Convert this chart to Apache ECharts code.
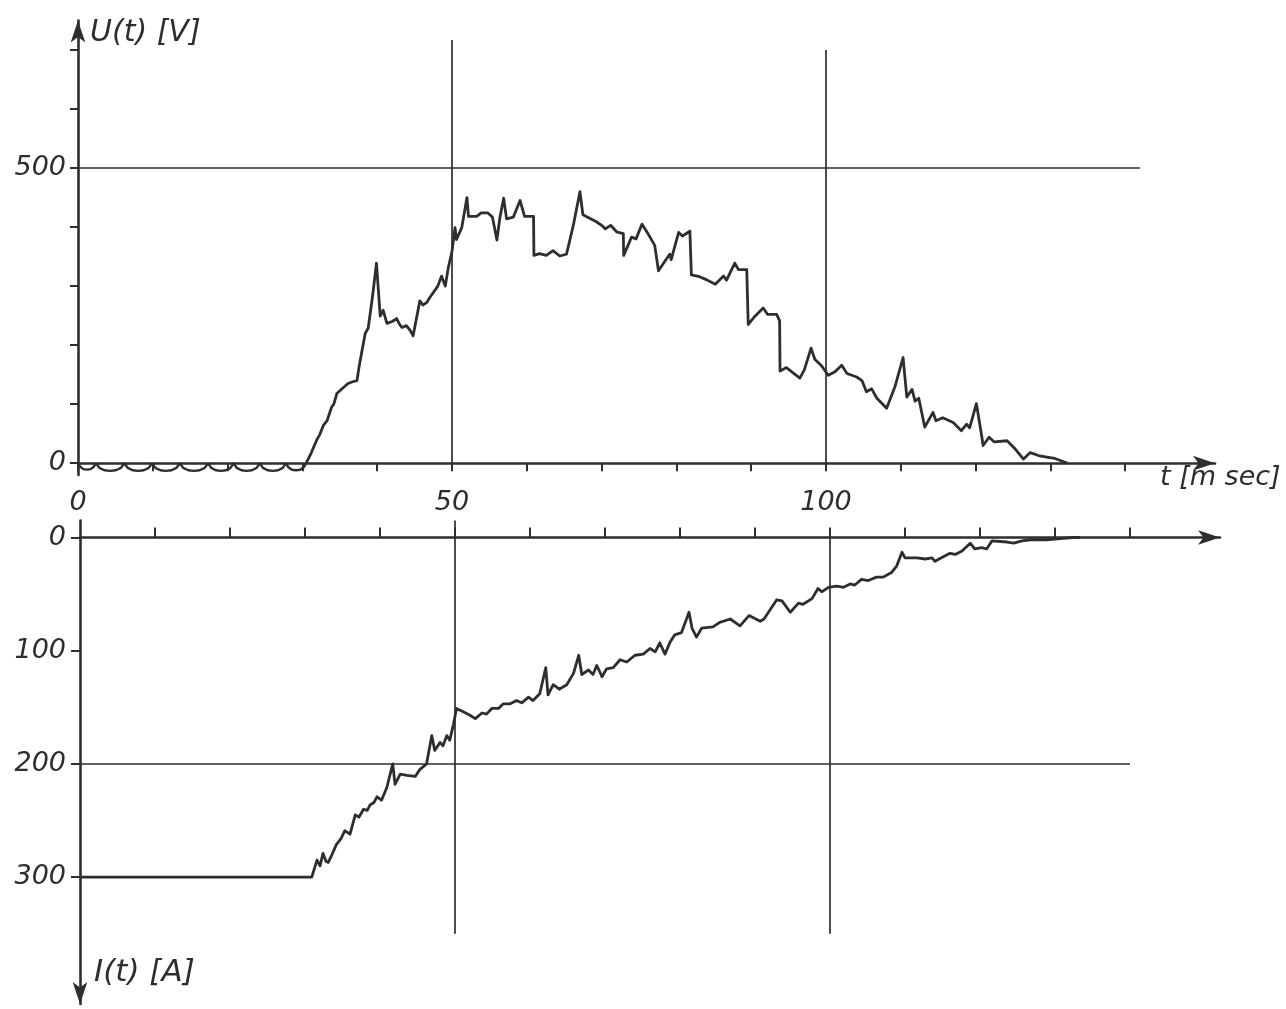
<!DOCTYPE html>
<html>
<head>
<meta charset="utf-8">
<script src="https://cdn.jsdelivr.net/npm/echarts@6/dist/echarts.min.js"></script>
<style>html,body{margin:0;padding:0;background:#fff;}#c{width:1286px;height:1009px;}</style>
</head>
<body>
<div id="c"></div>
<script>
// ---- data (time in ms) ----
// U(t) [V] : ripple near zero before ignition
var rippleT = [0,0.29,0.72,1.2,1.68,2.11,2.4, 2.86,3.54,4.3,5.06,5.74,6.2, 6.64,7.31,8.05,8.79,9.46,9.9,
  10.34,11.01,11.75,12.49,13.16,13.6, 14.06,14.74,15.5,16.26,16.94,17.4, 17.81,18.42,19.1,19.78,20.39,20.8,
  21.22,21.85,22.55,23.25,23.88,24.3, 24.72,25.35,26.05,26.75,27.38,27.8, 28.12,28.61,29.15,29.69,30.18,30.5];
var rippleU = [0,-6,-10,-11,-10,-6,0, -8,-12,-13,-12,-8,0, -8,-12,-13,-12,-8,0,
  -8,-12,-13,-12,-8,0, -8,-12,-13,-12,-8,0, -8,-12,-13,-12,-8,0,
  -8,-12,-13,-12,-8,0, -8,-12,-13,-12,-8,0, -7,-11,-12,-11,-7,0];
var uT = [30.5,31.2,31.9,32.3,32.8,33.3,33.9,34.2,34.6,35.3,36.1,36.7,37.3,37.6,37.9,38.4,38.8,39.4,39.9,40.4,
  40.8,41.3,42.0,42.6,43.0,43.3,43.9,44.4,44.8,45.7,46.1,46.6,47.1,47.5,48.1,48.6,49.1,49.5,50.0,50.4,
  50.6,51.3,52.0,52.2,53.3,53.9,54.8,55.4,56.0,56.4,56.9,57.3,58.2,59.1,59.7,60.9,60.95,61.7,62.6,63.5,
  64.4,65.3,66.2,67.1,67.5,68.4,69.3,70.0,70.5,71.2,72.0,72.9,72.95,74.0,74.6,75.4,76.1,77.1,77.6,78.5,
  79.1,79.3,80.3,80.8,81.8,82.0,83.1,84.0,85.2,86.3,86.7,87.8,88.3,89.4,89.6,90.5,91.6,92.2,93.4,93.8,
  93.85,94.7,95.6,96.5,97.1,98.0,98.5,99.4,100.3,101.2,102.1,102.8,104.1,104.8,105.4,106.1,106.8,108.1,109.2,110.3,
  110.8,111.5,111.9,112.4,113.2,114.3,114.7,115.6,117.0,118.1,118.8,119.2,120.1,120.8,121.0,121.8,122.5,124.2,125.3,126.4,
  127.3,128.4,129.7,130.6,132.3];
var uV = [0,18,39,48,64,72,95,100,118,126,135,138,140,165,186,220,229,285,339,249,
  259,237,240,245,235,230,233,225,216,275,268,272,282,289,300,317,300,331,359,399,
  379,399,450,418,418,424,424,417,378,416,449,414,417,445,418,418,352,355,352,360,
  351,354,402,460,421,415,409,403,397,403,392,389,352,383,380,405,391,369,326,343,
  354,345,391,385,393,319,316,311,303,317,310,339,328,328,235,249,263,252,252,241,
  156,162,153,144,158,195,176,165,149,155,166,152,146,140,121,126,110,93,129,179,
  112,125,105,110,61,86,72,77,69,55,66,60,101,47,30,44,36,38,24,7,
  18,13,10,8,0];
// I(t) [A]
var iT = [0,30.9,31.6,32.0,32.4,32.8,33.1,33.6,34.2,34.8,35.3,36.0,36.7,37.2,37.8,38.3,38.7,39.2,39.6,40.2,
  40.9,41.7,42.0,42.7,43.6,44.7,45.3,46.2,46.9,47.3,48.0,48.4,48.9,49.3,49.8,50.2,51.1,52.0,52.7,53.6,
  54.2,54.9,55.8,56.4,57.3,58.2,58.9,59.8,60.4,61.3,62.1,62.4,63.1,63.9,64.9,65.8,66.5,66.9,67.8,68.4,
  68.9,69.6,70.2,71.1,72.0,72.9,74.0,75.1,76.0,76.7,77.3,78.0,78.7,79.3,80.2,81.2,81.6,82.2,82.9,84.4,
  85.3,86.7,88.0,89.2,90.7,91.2,92.9,93.6,94.7,95.8,96.4,97.6,98.4,98.9,99.8,100.9,101.8,102.7,103.3,104.2,
  105.1,106.2,107.1,108.2,108.9,109.6,110.0,111.6,112.7,113.6,114.0,115.1,116.0,116.7,117.6,118.7,119.3,120.2,120.9,121.6,
  123.6,124.5,125.6,126.7,128.9,130.7,132.4,133.3];
var iA = [300,300,285,290,279,286,287,280,271,266,259,262,245,247,240,241,236,234,229,232,
  221,200,218,209,210,211,205,200,175,188,181,184,175,179,165,151,154,157,160,155,
  156,151,151,147,147,144,146,141,144,138,115,139,130,134,130,120,104,121,117,121,
  113,123,116,115,108,110,104,103,98,101,93,103,92,86,84,66,80,88,80,79,
  75,72,78,69,74,72,55,56,66,58,59,54,45,48,44,43,44,41,42,37,
  38,35,35,31,25,13,18,18,19,18,21,17,14,15,12,5,10,9,10,3,
  4,5,3,2,2,1,0,0];
// ticks / labels
var tTicksTop = [0,10,20,30,40,50,60,70,80,90,100,110,120,130,140];
var tTicksBottom = [10,20,30,40,50,60,70,80,90,100,110,120,130,140];
var tLabels = [0,50,100];
var uTicks = [0,100,200,300,400,500,600,700];
var uLabels = [0,500];
var iTicks = [0,100,200,300];
var iLabels = [0,100,200,300];

function zip(a,b){var r=[];for(var k=0;k<a.length;k++)r.push([a[k],b[k]]);return r;}

var INK = '#2e2e2e';
var FONT = '"DejaVu Sans", sans-serif';
var lblStyle = {color: INK, fontSize: 27, fontStyle: 'italic', fontFamily: FONT};
var gridLine = {color: INK, width: 1.7, type: 'solid'};
var ml = function(data){return {silent:true, symbol:'none', label:{show:false}, lineStyle:gridLine, animation:false, data:data};};

var chart = echarts.init(document.getElementById('c'), null, {renderer:'canvas'});
chart.setOption({
  backgroundColor: '#ffffff',
  animation: false,
  grid: [
    {left: 78, right: 71, top: 20.5, bottom: 534, containLabel:false, outerBoundsMode:'none'},
    {left: 80, right: 66, top: 520.5, bottom: 5, containLabel:false, outerBoundsMode:'none'}
  ],
  xAxis: [
    {type:'value', gridIndex:0, min:0, max:152, position:'bottom',
     axisLine:{onZero:true, symbol:['none','arrow'], symbolSize:[11,22], lineStyle:{color:INK, width:2.6}},
     axisTick:{show:true, customValues:tTicksTop, length:8, inside:false, lineStyle:{color:INK, width:2}},
     axisLabel:{show:true, customValues:tLabels, margin:14, ...lblStyle},
     splitLine:{show:false}},
    {type:'value', gridIndex:1, min:0, max:152, position:'top',
     axisLine:{onZero:true, symbol:['none','arrow'], symbolSize:[11,22], lineStyle:{color:INK, width:2.6}},
     axisTick:{show:true, customValues:tTicksBottom, length:10, inside:false, lineStyle:{color:INK, width:2}},
     axisLabel:{show:false},
     splitLine:{show:false}}
  ],
  yAxis: [
    {type:'value', gridIndex:0, min:-20, max:750, position:'left',
     axisLine:{show:true, onZero:false, symbol:['none','arrow'], symbolSize:[11,22], lineStyle:{color:INK, width:2.6}},
     axisTick:{show:true, customValues:uTicks, length:8, inside:false, lineStyle:{color:INK, width:2}},
     axisLabel:{show:true, customValues:uLabels, margin:12, ...lblStyle},
     splitLine:{show:false}},
    {type:'value', gridIndex:1, min:-15, max:412, inverse:true, position:'left',
     axisLine:{show:true, onZero:false, symbol:['arrow','none'], symbolSize:[11,22], lineStyle:{color:INK, width:2.6}},
     axisTick:{show:true, customValues:iTicks, length:9, inside:false, lineStyle:{color:INK, width:2}},
     axisLabel:{show:true, customValues:iLabels, margin:14, ...lblStyle},
     splitLine:{show:false}}
  ],
  graphic: [
    {type:'text', left:90, top:18, style:{text:'U(t) [V]', fontSize:30, fontStyle:'italic', fontFamily:FONT, fill:INK}},
    {type:'text', left:1160, top:464, style:{text:'t [m sec]', fontSize:27, fontStyle:'italic', fontFamily:FONT, fill:INK}},
    {type:'text', left:94, top:957, style:{text:'I(t) [A]', fontSize:31, fontStyle:'italic', fontFamily:FONT, fill:INK}}
  ],
  series: [
    {type:'line', xAxisIndex:0, yAxisIndex:0, data: zip(rippleT, rippleU), showSymbol:false, smooth:false,
     lineStyle:{color:INK, width:2.4},
     markLine: ml([
       [{coord:[0,500]},{coord:[142,500]}],
       [{coord:[50,-8]},{coord:[50,717]}],
       [{coord:[100,-8]},{coord:[100,700]}]
     ])},
    {type:'line', xAxisIndex:0, yAxisIndex:0, data: zip(uT, uV), showSymbol:false, smooth:false,
     lineStyle:{color:INK, width:2.8, join:'round'}},
    {type:'line', xAxisIndex:1, yAxisIndex:1, data: zip(iT, iA), showSymbol:false, smooth:false,
     lineStyle:{color:INK, width:2.8, join:'round'},
     markLine: ml([
       [{coord:[0,200]},{coord:[140,200]}],
       [{coord:[50,-15]},{coord:[50,350]}],
       [{coord:[100,-5]},{coord:[100,350]}]
     ])}
  ]
});
</script>
</body>
</html>
